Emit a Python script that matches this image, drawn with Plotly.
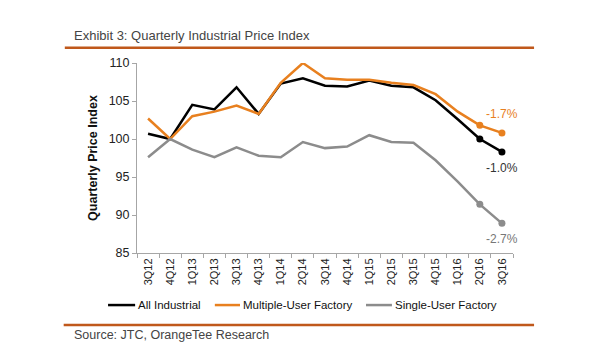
import plotly.graph_objects as go

quarters = ["3Q12", "4Q12", "1Q13", "2Q13", "3Q13", "4Q13", "1Q14", "2Q14", "3Q14",
            "4Q14", "1Q15", "2Q15", "3Q15", "4Q15", "1Q16", "2Q16", "3Q16"]
all_industrial = [100.7, 100.0, 104.5, 103.9, 106.8, 103.3, 107.3, 108.0, 107.0,
                  106.9, 107.7, 107.0, 106.8, 105.1, 102.6, 100.0, 98.3]
multiple_user = [102.7, 100.0, 103.0, 103.6, 104.4, 103.3, 107.4, 110.0, 108.0,
                 107.8, 107.8, 107.4, 107.1, 105.9, 103.6, 101.8, 100.8]
single_user = [97.6, 100.0, 98.6, 97.6, 98.9, 97.8, 97.6, 99.6, 98.8,
               99.0, 100.5, 99.6, 99.5, 97.2, 94.4, 91.4, 88.9]
end_labels = {"All Industrial": "-1.0%", "Multiple-User Factory": "-1.7%",
              "Single-User Factory": "-2.7%"}

FONT = "Liberation Sans"
BLACK = "#000000"
ORANGE = "#E8801F"
GREY = "#8C8C8C"
RULE = "#C0581B"

fig = go.Figure()
series = [("All Industrial", all_industrial, BLACK),
          ("Multiple-User Factory", multiple_user, ORANGE),
          ("Single-User Factory", single_user, GREY)]
for name, vals, col in series:
    fig.add_trace(go.Scatter(
        x=quarters, y=vals, name=name, mode="lines",
        line=dict(color=col, width=2.5), showlegend=False,
    ))
    fig.add_trace(go.Scatter(
        x=quarters[-2:], y=vals[-2:], mode="markers", showlegend=False,
        marker=dict(size=7, color=col),
    ))

label_shift = {"All Industrial": -16, "Multiple-User Factory": 19, "Single-User Factory": -16}
label_color = {"All Industrial": "#333333", "Multiple-User Factory": ORANGE,
               "Single-User Factory": "#777777"}
for name, vals, col in series:
    fig.add_annotation(x=quarters[-1], y=vals[-1], text=end_labels[name],
                       showarrow=False, yshift=label_shift[name],
                       font=dict(family=FONT, size=12, color=label_color[name]))

# legend (drawn manually so it stays on one row)
leg_y = -0.274
leg_items = [("All Industrial", BLACK, -0.077, -0.005),
             ("Multiple-User Factory", ORANGE, 0.207, 0.274),
             ("Single-User Factory", GREY, 0.609, 0.678)]
for name, col, xa, xb in leg_items:
    fig.add_shape(type="line", xref="paper", yref="paper", x0=xa, x1=xb,
                  y0=leg_y, y1=leg_y, line=dict(color=col, width=2.5))
    fig.add_annotation(xref="paper", yref="paper", x=xb + 0.002, y=leg_y,
                       xanchor="left", yanchor="middle", showarrow=False, text=name,
                       font=dict(family=FONT, size=11.5, color="#111111"))

fig.add_annotation(xref="paper", yref="paper", x=-0.173, y=1.145, xanchor="left",
                   yanchor="middle", showarrow=False,
                   text="Exhibit 3: Quarterly Industrial Price Index",
                   font=dict(family=FONT, size=13, color="#444444"))
fig.add_annotation(xref="paper", yref="paper", x=-0.173, y=-0.43, xanchor="left",
                   yanchor="middle", showarrow=False,
                   text="Source: JTC, OrangeTee Research",
                   font=dict(family=FONT, size=12.5, color="#444444"))
fig.add_shape(type="line", xref="paper", yref="paper", x0=-0.192, x1=1.056,
              y0=1.08, y1=1.08, line=dict(color=RULE, width=2.5))
fig.add_shape(type="line", xref="paper", yref="paper", x0=-0.195, x1=1.056,
              y0=-0.379, y1=-0.379, line=dict(color=RULE, width=2.5))

# page body adds an 8px offset, so margins are reduced by 8px on the left/top
fig.update_layout(
    width=600, height=360,
    margin=dict(l=129, r=95, t=55, b=115),
    paper_bgcolor="white", plot_bgcolor="white",
    font=dict(family=FONT, size=11, color="#222222"),
    showlegend=False,
    xaxis=dict(type="category", range=[-0.5, 16.5], tickangle=-90, automargin=False,
               showline=True, linecolor="#A6A6A6", linewidth=1,
               ticks="outside", tickson="boundaries", ticklen=4, tickcolor="#A6A6A6",
               showgrid=False, tickfont=dict(family=FONT, size=11, color="#222222")),
    yaxis=dict(range=[85, 110], dtick=5, showline=True, linecolor="#A6A6A6", linewidth=1,
               automargin=False,
               ticks="outside", ticklen=4, tickcolor="#A6A6A6", showgrid=False,
               zeroline=False, tickfont=dict(family=FONT, size=12.5, color="#222222"),
               title=dict(text="<b>Quarterly Price Index</b>", standoff=8,
                          font=dict(family=FONT, size=12.5, color="#111111"))),
)

fig.write_html("out.html")
